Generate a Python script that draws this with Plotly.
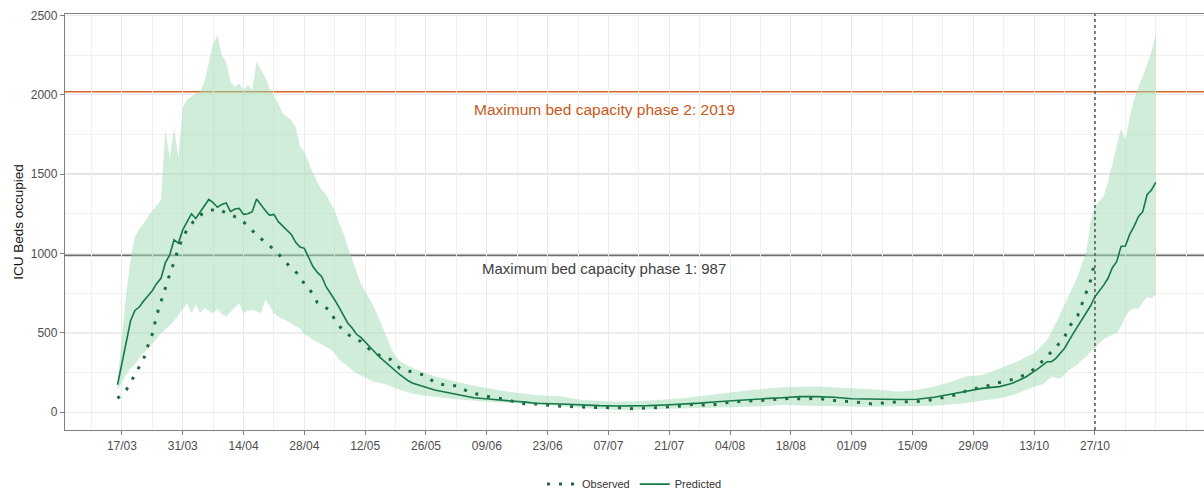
import plotly.graph_objects as go
import pandas as pd

# ---------------- data (day offsets from 17/03/2020) ----------------
obs_days = [-1, 1, 3, 5, 6, 7, 8, 9, 10, 11, 12, 13, 14, 15, 17, 19, 22, 24, 27, 29,
            31, 33, 35, 37, 39, 41, 42, 44, 45, 48, 49, 51, 53, 55, 57, 60, 62, 64, 67, 70,
            72, 75, 77, 80, 82, 85, 88, 90, 93, 96, 99, 102, 104, 107, 110, 113, 115, 118, 121, 124,
            126, 129, 132, 135, 138, 140, 143, 146, 148, 151, 154, 157, 160, 162, 165, 168, 171, 173, 176, 179,
            182, 185, 187, 190, 193, 195, 198, 201, 203, 206, 209, 211, 213, 215, 217, 218, 220, 221, 222, 223, 224]
obs_vals = [86, 139, 235, 335, 418, 490, 610, 700, 790, 868, 944, 1030, 1100, 1150, 1220, 1260, 1282, 1255, 1220, 1175,
            1116, 1072, 1025, 968, 905, 860, 805, 745, 690, 640, 580, 510, 471, 445, 395, 345, 330, 275, 250, 230,
            185, 166, 166, 124, 112, 93, 82, 67, 50, 50, 40, 33, 33, 30, 27, 27, 27, 19, 27, 27,
            33, 38, 50, 40, 55, 61, 69, 71, 74, 80, 86, 82, 86, 80, 69, 65, 55, 50, 59, 65,
            65, 71, 80, 97, 114, 143, 153, 181, 191, 212, 250, 296, 349, 408, 471, 536, 606, 681, 750, 830, 955]

pred_days = [-1, 0, 1, 2, 3, 4, 5, 6, 7, 8, 9, 10, 11, 12, 13, 14, 15, 16, 17, 18,
             19, 20, 21, 22, 23, 24, 25, 26, 27, 28, 29, 30, 31, 32, 33, 34, 35, 36, 37, 38,
             39, 40, 41, 42, 43, 44, 45, 46, 47, 48, 49, 50, 51, 52, 53, 54, 55, 56, 57, 58,
             59, 60, 61, 62, 63, 64, 65, 66, 67, 68, 69, 70, 71, 72, 74, 77, 79, 81, 85, 88,
             90, 93, 95, 97, 99, 101, 104, 106, 110, 114, 118, 121, 125, 129, 133, 137, 141, 145, 149, 152,
             156, 160, 164, 168, 171, 175, 179, 183, 187, 191, 194, 198, 202, 205, 208, 210, 211, 213, 214, 215,
             217, 219, 221, 222, 223, 224, 225, 226, 227, 228, 229, 230, 231, 232, 233, 234, 235, 236, 237, 238]
pred_vals = [172, 305, 440, 575, 640, 662, 700, 730, 765, 811, 843, 940, 990, 1085, 1064, 1148, 1200, 1250, 1220, 1259,
             1300, 1340, 1320, 1291, 1309, 1318, 1263, 1280, 1284, 1246, 1250, 1263, 1343, 1305, 1270, 1240, 1246, 1200, 1175, 1148,
             1120, 1070, 1040, 1032, 979, 916, 880, 853, 790, 750, 706, 660, 612, 560, 530, 490, 470, 440, 412, 380,
             355, 330, 305, 286, 260, 235, 215, 195, 181, 172, 162, 155, 148, 139, 128, 112, 100, 90, 80, 74,
             69, 62, 55, 55, 52, 50, 46, 44, 40, 38, 38, 40, 44, 48, 56, 65, 73, 80, 86, 90,
             97, 97, 93, 84, 82, 80, 79, 80, 93, 114, 128, 149, 160, 181, 219, 254, 275, 317, 317, 338,
             402, 496, 580, 620, 670, 727, 760, 800, 843, 910, 948, 1043, 1047, 1120, 1170, 1231, 1263, 1370, 1400, 1448]

upper_days = [-1, 0, 1, 2, 3, 4, 5, 6, 7, 8, 9, 10, 11, 12, 13, 14, 15, 16, 17, 18,
              19, 20, 21, 22, 23, 24, 25, 26, 27, 28, 29, 30, 31, 32, 33, 34, 35, 36, 37, 38,
              39, 40, 41, 42, 43, 44, 45, 46, 47, 48, 49, 50, 51, 52, 53, 54, 55, 56, 57, 58,
              59, 60, 61, 62, 63, 64, 66, 69, 72, 77, 82, 89, 95, 101, 106, 114, 121, 129, 137, 145,
              152, 160, 168, 175, 179, 183, 187, 191, 194, 198, 202, 206, 210, 213, 215, 217, 220, 222, 223, 224,
              225, 226, 227, 228, 229, 230, 231, 232, 233, 234, 235, 236, 237, 238]
upper_vals = [195, 480, 750, 960, 1106, 1150, 1190, 1231, 1270, 1300, 1337, 1780, 1600, 1790, 1600, 1920, 1967, 1990, 2009, 2020,
              2080, 2200, 2320, 2377, 2250, 2209, 2080, 2051, 2072, 2030, 2062, 2030, 2209, 2160, 2110, 2040, 1995, 1946, 1883, 1860,
              1840, 1799, 1673, 1640, 1570, 1505, 1450, 1400, 1370, 1320, 1270, 1190, 1127, 1040, 960, 880, 811, 760, 710, 664,
              600, 538, 470, 400, 349, 320, 290, 254, 225, 191, 160, 128, 107, 97, 76, 65, 71, 86, 114, 139,
              156, 160, 149, 139, 128, 139, 160, 191, 223, 233, 275, 317, 370, 454, 559, 680, 853, 1010, 1200, 1295,
              1330, 1360, 1450, 1568, 1673, 1788, 1715, 1860, 1967, 2051, 2114, 2200, 2272, 2377]

lower_days = [-1, 0, 1, 2, 3, 4, 5, 6, 7, 8, 9, 10, 11, 12, 13, 14, 15, 16, 17, 18,
              19, 20, 21, 22, 23, 24, 25, 26, 27, 28, 29, 30, 31, 32, 33, 34, 35, 36, 37, 38,
              39, 40, 41, 42, 43, 44, 45, 46, 47, 48, 49, 50, 51, 52, 53, 54, 56, 58, 60, 62,
              64, 67, 71, 75, 79, 86, 94, 100, 106, 114, 121, 129, 137, 145, 152, 160, 166, 172, 180, 187,
              194, 198, 202, 206, 210, 212, 214, 216, 218, 220, 221, 222, 223, 224, 225, 226, 227, 229, 230, 231,
              232, 233, 234, 235, 236, 237, 238]
lower_vals = [139, 190, 235, 275, 300, 340, 370, 400, 433, 460, 496, 520, 545, 575, 610, 650, 685, 622, 680, 622,
              655, 640, 622, 650, 620, 601, 630, 660, 685, 622, 640, 643, 635, 622, 706, 670, 622, 601, 590, 575,
              560, 540, 527, 490, 475, 455, 440, 420, 410, 395, 370, 330, 310, 290, 265, 244, 215, 191, 180, 160,
              139, 115, 97, 85, 76, 61, 50, 40, 25, 13, 18, 23, 28, 33, 44, 38, 35, 33, 35, 40,
              55, 70, 86, 114, 160, 175, 223, 210, 265, 300, 330, 349, 380, 402, 433, 460, 475, 500, 540, 600,
              640, 654, 650, 690, 727, 717, 740]

tick_days = [0, 14, 28, 42, 56, 70, 84, 98, 112, 126, 140, 154, 168, 182, 196, 210, 224]
y_ticks = [0, 500, 1000, 1500, 2000, 2500]
cap1, cap2 = 987, 2019
cap1_label = "Maximum bed capacity phase 1: 987"
cap2_label = "Maximum bed capacity phase 2: 2019"
cutoff_day = 224

# ---------------- helpers ----------------
base = pd.Timestamp("2020-03-17")
def to_dates(days):
    return [base + pd.Timedelta(days=d) for d in days]

font = "Arial, Liberation Sans, sans-serif"
fig = go.Figure()

# ribbon (polygon upper + reversed lower)
rib_x = to_dates(upper_days) + to_dates(lower_days)[::-1]
rib_y = upper_vals + lower_vals[::-1]
fig.add_trace(go.Scatter(x=rib_x, y=rib_y, fill="toself", fillcolor="rgba(160,220,180,0.5)",
                         line=dict(width=0), mode="lines", showlegend=False, hoverinfo="skip"))

fig.add_trace(go.Scatter(x=to_dates(obs_days), y=obs_vals, mode="lines", name="Observed",
                         line=dict(color="#1c6b44", width=3, dash="3px,9px")))
fig.add_trace(go.Scatter(x=to_dates(pred_days), y=pred_vals, mode="lines", name="Predicted",
                         line=dict(color="#17784a", width=1.6)))

# capacity lines
fig.add_hline(y=cap2, line=dict(color="#d2691e", width=1.5), layer="below")
fig.add_hline(y=cap1, line=dict(color="#6e6e6e", width=1.8), layer="below")
for v in [500, 1500]:
    fig.add_hline(y=v, line=dict(color="#c4c4c4", width=1.3), layer="below")

fig.add_shape(type="line", xref="x", yref="paper",
              x0=base + pd.Timedelta(days=cutoff_day), x1=base + pd.Timedelta(days=cutoff_day),
              y0=0, y1=1, line=dict(color="#555555", width=1.5, dash="dot"))

mid = base + pd.Timedelta(days=111)
fig.add_annotation(x=mid, y=1910, text=cap2_label, showarrow=False,
                   font=dict(family=font, size=15.5, color="#c8581a"))
fig.add_annotation(x=mid, y=905, text=cap1_label, showarrow=False,
                   font=dict(family=font, size=15, color="#404040"))

fig.update_layout(
    width=1204, height=492,
    margin=dict(l=65, r=0, t=14, b=62, autoexpand=False),
    paper_bgcolor="white", plot_bgcolor="white",
    font=dict(family=font),
    legend=dict(orientation="h", x=0.50, xanchor="center", y=-0.13, yanchor="middle",
                font=dict(size=11, color="#333333")),
)

fig.update_xaxes(
    type="date", automargin=False,
    range=[base + pd.Timedelta(days=-13.1), base + pd.Timedelta(days=249.1)],
    tickvals=to_dates(tick_days),
    tickformat="%d/%m",
    ticks="outside", ticklen=4, tickcolor="#7f7f7f",
    tickfont=dict(size=12, color="#4d4d4d"),
    showgrid=True, gridcolor="#ebebeb", gridwidth=1,
    minor=dict(tickvals=to_dates([d - 7 for d in tick_days] + [231, 238, 245]),
               showgrid=True, gridcolor="#f0f0f0", gridwidth=1),
    showline=True, linecolor="#7f7f7f", linewidth=1.3, mirror=True,
    zeroline=False,
)
fig.update_yaxes(
    automargin=False,
    range=[-113.5, 2509.5],
    tickvals=y_ticks,
    ticks="outside", ticklen=4, tickcolor="#7f7f7f",
    tickfont=dict(size=12, color="#4d4d4d"),
    showgrid=True, gridcolor="#ebebeb", gridwidth=1,
    minor=dict(tickvals=[250, 750, 1250, 1750, 2250], showgrid=True, gridcolor="#f0f0f0", gridwidth=1),
    showline=True, linecolor="#7f7f7f", linewidth=1.3,
    zeroline=False,
    title=dict(text="ICU Beds occupied", font=dict(size=13.5, color="#111111"), standoff=4),
)

fig.write_html("out.html", config={"displayModeBar": False},
               post_script="document.body.style.margin='0';document.body.style.overflow='hidden';")
